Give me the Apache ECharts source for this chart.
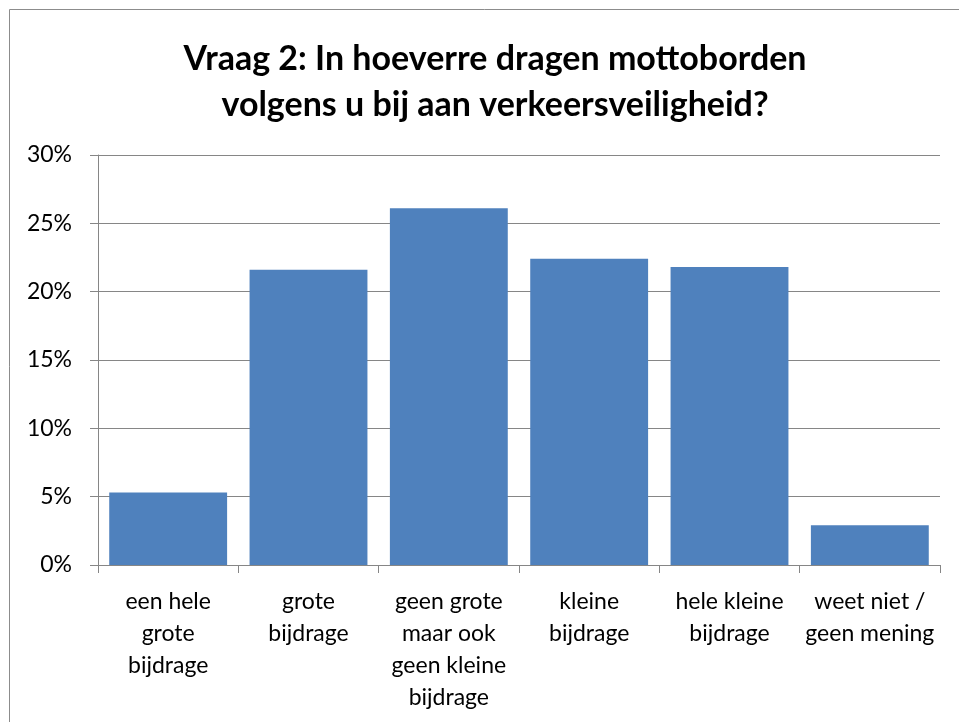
<!DOCTYPE html>
<html>
<head>
<meta charset="utf-8">
<script src="https://cdn.jsdelivr.net/npm/echarts@6/dist/echarts.min.js"></script>
<style>
  html, body { margin: 0; padding: 0; background: #fff; }
  #main { width: 959px; height: 722px; }
</style>
</head>
<body>
<div id="main"></div>
<script>
// chart data
var titleText = 'Vraag 2: In hoeverre dragen mottoborden\nvolgens u bij aan verkeersveiligheid?';
var categories = [
  'een hele\ngrote\nbijdrage',
  'grote\nbijdrage',
  'geen grote\nmaar ook\ngeen kleine\nbijdrage',
  'kleine\nbijdrage',
  'hele kleine\nbijdrage',
  'weet niet /\ngeen mening'
];
var values = [5.3, 21.6, 26.1, 22.4, 21.8, 2.9];
var yTicks = [0, 5, 10, 15, 20, 25, 30];

var font = 'Lato, "Open Sans", sans-serif';
var chart = echarts.init(document.getElementById('main'));

var option = {
  backgroundColor: '#fff',
  animation: false,
  graphic: [{
    type: 'rect',
    shape: { x: 9.5, y: 9.5, width: 1000, height: 800 },
    style: { fill: 'none', stroke: '#8c8c8c', lineWidth: 1 },
    silent: true
  }],
  title: {
    text: titleText,
    left: 490,
    textAlign: 'center',
    top: 31,
    textStyle: {
      fontFamily: font,
      fontSize: 34,
      fontWeight: 'bold',
      color: '#000',
      lineHeight: 46
    }
  },
  grid: {
    left: 98,
    right: 19,
    top: 155,
    bottom: 157,
    containLabel: false
  },
  xAxis: {
    type: 'category',
    data: categories,
    axisLine: { lineStyle: { color: '#868686', width: 1 } },
    axisTick: { show: true, length: 8, alignWithLabel: false, lineStyle: { color: '#868686' } },
    axisLabel: {
      interval: 0,
      margin: 21,
      fontFamily: font,
      fontSize: 23,
      color: '#000',
      lineHeight: 32
    }
  },
  yAxis: {
    type: 'value',
    min: yTicks[0],
    max: yTicks[yTicks.length - 1],
    interval: 5,
    axisLine: { show: true, lineStyle: { color: '#868686', width: 1 } },
    axisTick: { show: true, length: 8, lineStyle: { color: '#868686' } },
    splitLine: { show: true, lineStyle: { color: '#868686', width: 1 } },
    axisLabel: {
      margin: 26,
      fontFamily: font,
      fontSize: 23,
      color: '#000',
      formatter: function (v) { return v + '%'; }
    }
  },
  series: [{
    type: 'bar',
    data: values,
    barCategoryGap: '16%',
    itemStyle: { color: '#4f81bd' }
  }]
};

chart.setOption(option);
</script>
</body>
</html>
